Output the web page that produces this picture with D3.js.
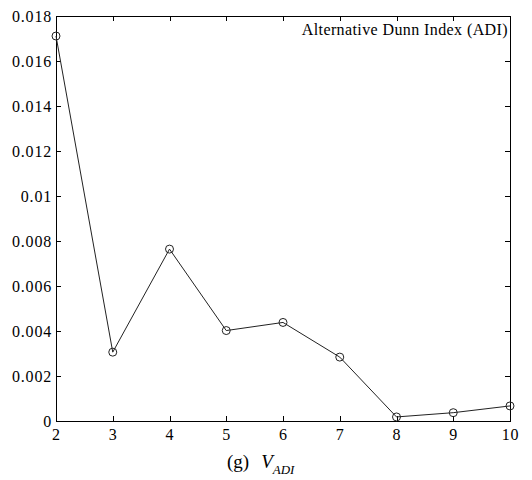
<!DOCTYPE html>
<html>
<head>
<meta charset="utf-8">
<script src="https://cdn.jsdelivr.net/npm/d3@7"></script>
<style>
  body { margin: 0; background: #fff; }
  svg { display: block; }
  svg text { font-family: 'Liberation Serif', 'Times New Roman', Times, serif; }
</style>
</head>
<body>
<svg id="canvas"></svg>
<script>
// cluster counts and index values
const clusters = [2, 3, 4, 5, 6, 7, 8, 9, 10];
const adiValues = [0.01711, 0.00306, 0.00764, 0.00402, 0.00438, 0.00284, 0.00018, 0.00037, 0.00067];
const yTicks = [0, 0.002, 0.004, 0.006, 0.008, 0.01, 0.012, 0.014, 0.016, 0.018];
const legendLabel = 'Alternative Dunn Index (ADI)';

let width = 532;
let height = 480;
let margin = { top: 16, right: 22, bottom: 59, left: 56 };

let canvas = d3.select('#canvas')
    .attr('width', width)
    .attr('height', height);

let xScale = d3.scaleLinear()
    .domain([2, 10])
    .range([margin.left, width - margin.right]);

let yScale = d3.scaleLinear()
    .domain([0, 0.018])
    .range([height - margin.bottom, margin.top]);

const fmt = d => d === 0 ? '0' : String(+d.toFixed(3));

// box with inward ticks, matlab style
canvas.append('rect')
    .attr('x', margin.left)
    .attr('y', margin.top)
    .attr('width', width - margin.left - margin.right)
    .attr('height', height - margin.top - margin.bottom)
    .attr('fill', 'none')
    .attr('stroke', '#000')
    .attr('shape-rendering', 'crispEdges');

let xAxis = d3.axisBottom(xScale).tickValues(clusters).tickSize(-5).tickPadding(8).tickFormat(d3.format('d'));
let yAxis = d3.axisLeft(yScale).tickValues(yTicks).tickSize(-5).tickPadding(4).tickFormat(fmt);
let xTop = d3.axisTop(xScale).tickValues(clusters).tickSize(-5).tickFormat('');
let yRight = d3.axisRight(yScale).tickValues(yTicks).tickSize(-5).tickFormat('');

const styleAxis = g => {
    g.attr('font-family', null).attr('font-size', null);
    g.select('.domain').remove();
    g.selectAll('line').attr('stroke', '#000').attr('shape-rendering', 'crispEdges');
    g.selectAll('text').attr('fill', '#000')
        .style('font-size', '16px')
        .style('letter-spacing', '0.8px');
};

canvas.append('g')
    .attr('transform', 'translate(0,' + (height - margin.bottom) + ')')
    .call(xAxis).call(styleAxis);

canvas.append('g')
    .attr('transform', 'translate(' + margin.left + ',0)')
    .call(yAxis).call(styleAxis);

canvas.append('g')
    .attr('transform', 'translate(0,' + margin.top + ')')
    .call(xTop).call(styleAxis);

canvas.append('g')
    .attr('transform', 'translate(' + (width - margin.right) + ',0)')
    .call(yRight).call(styleAxis);

let points = clusters.map((c, i) => ({ x: c, y: adiValues[i] }));

let line = d3.line()
    .x(d => xScale(d.x))
    .y(d => yScale(d.y));

canvas.append('path')
    .datum(points)
    .attr('d', line)
    .attr('fill', 'none')
    .attr('stroke', '#222')
    .attr('stroke-width', 1);

canvas.selectAll('circle')
    .data(points)
    .enter()
    .append('circle')
    .attr('cx', d => xScale(d.x))
    .attr('cy', d => yScale(d.y))
    .attr('r', 4)
    .attr('fill', 'none')
    .attr('stroke', '#222')
    .attr('stroke-width', 1);

canvas.append('text')
    .attr('x', width - margin.right - 2)
    .attr('y', margin.top + 19)
    .attr('text-anchor', 'end')
    .style('font-size', '16px')
    .style('letter-spacing', '0.4px')
    .text(legendLabel);

// caption
let caption = canvas.append('text')
    .attr('x', 227)
    .attr('y', 468)
    .style('font-size', '19px');
caption.append('tspan').text('(g)');
caption.append('tspan').attr('dx', 12).style('font-style', 'italic').text('V');
caption.append('tspan').attr('dy', 6).style('font-style', 'italic').style('font-size', '13px').text('ADI');
</script>
</body>
</html>
